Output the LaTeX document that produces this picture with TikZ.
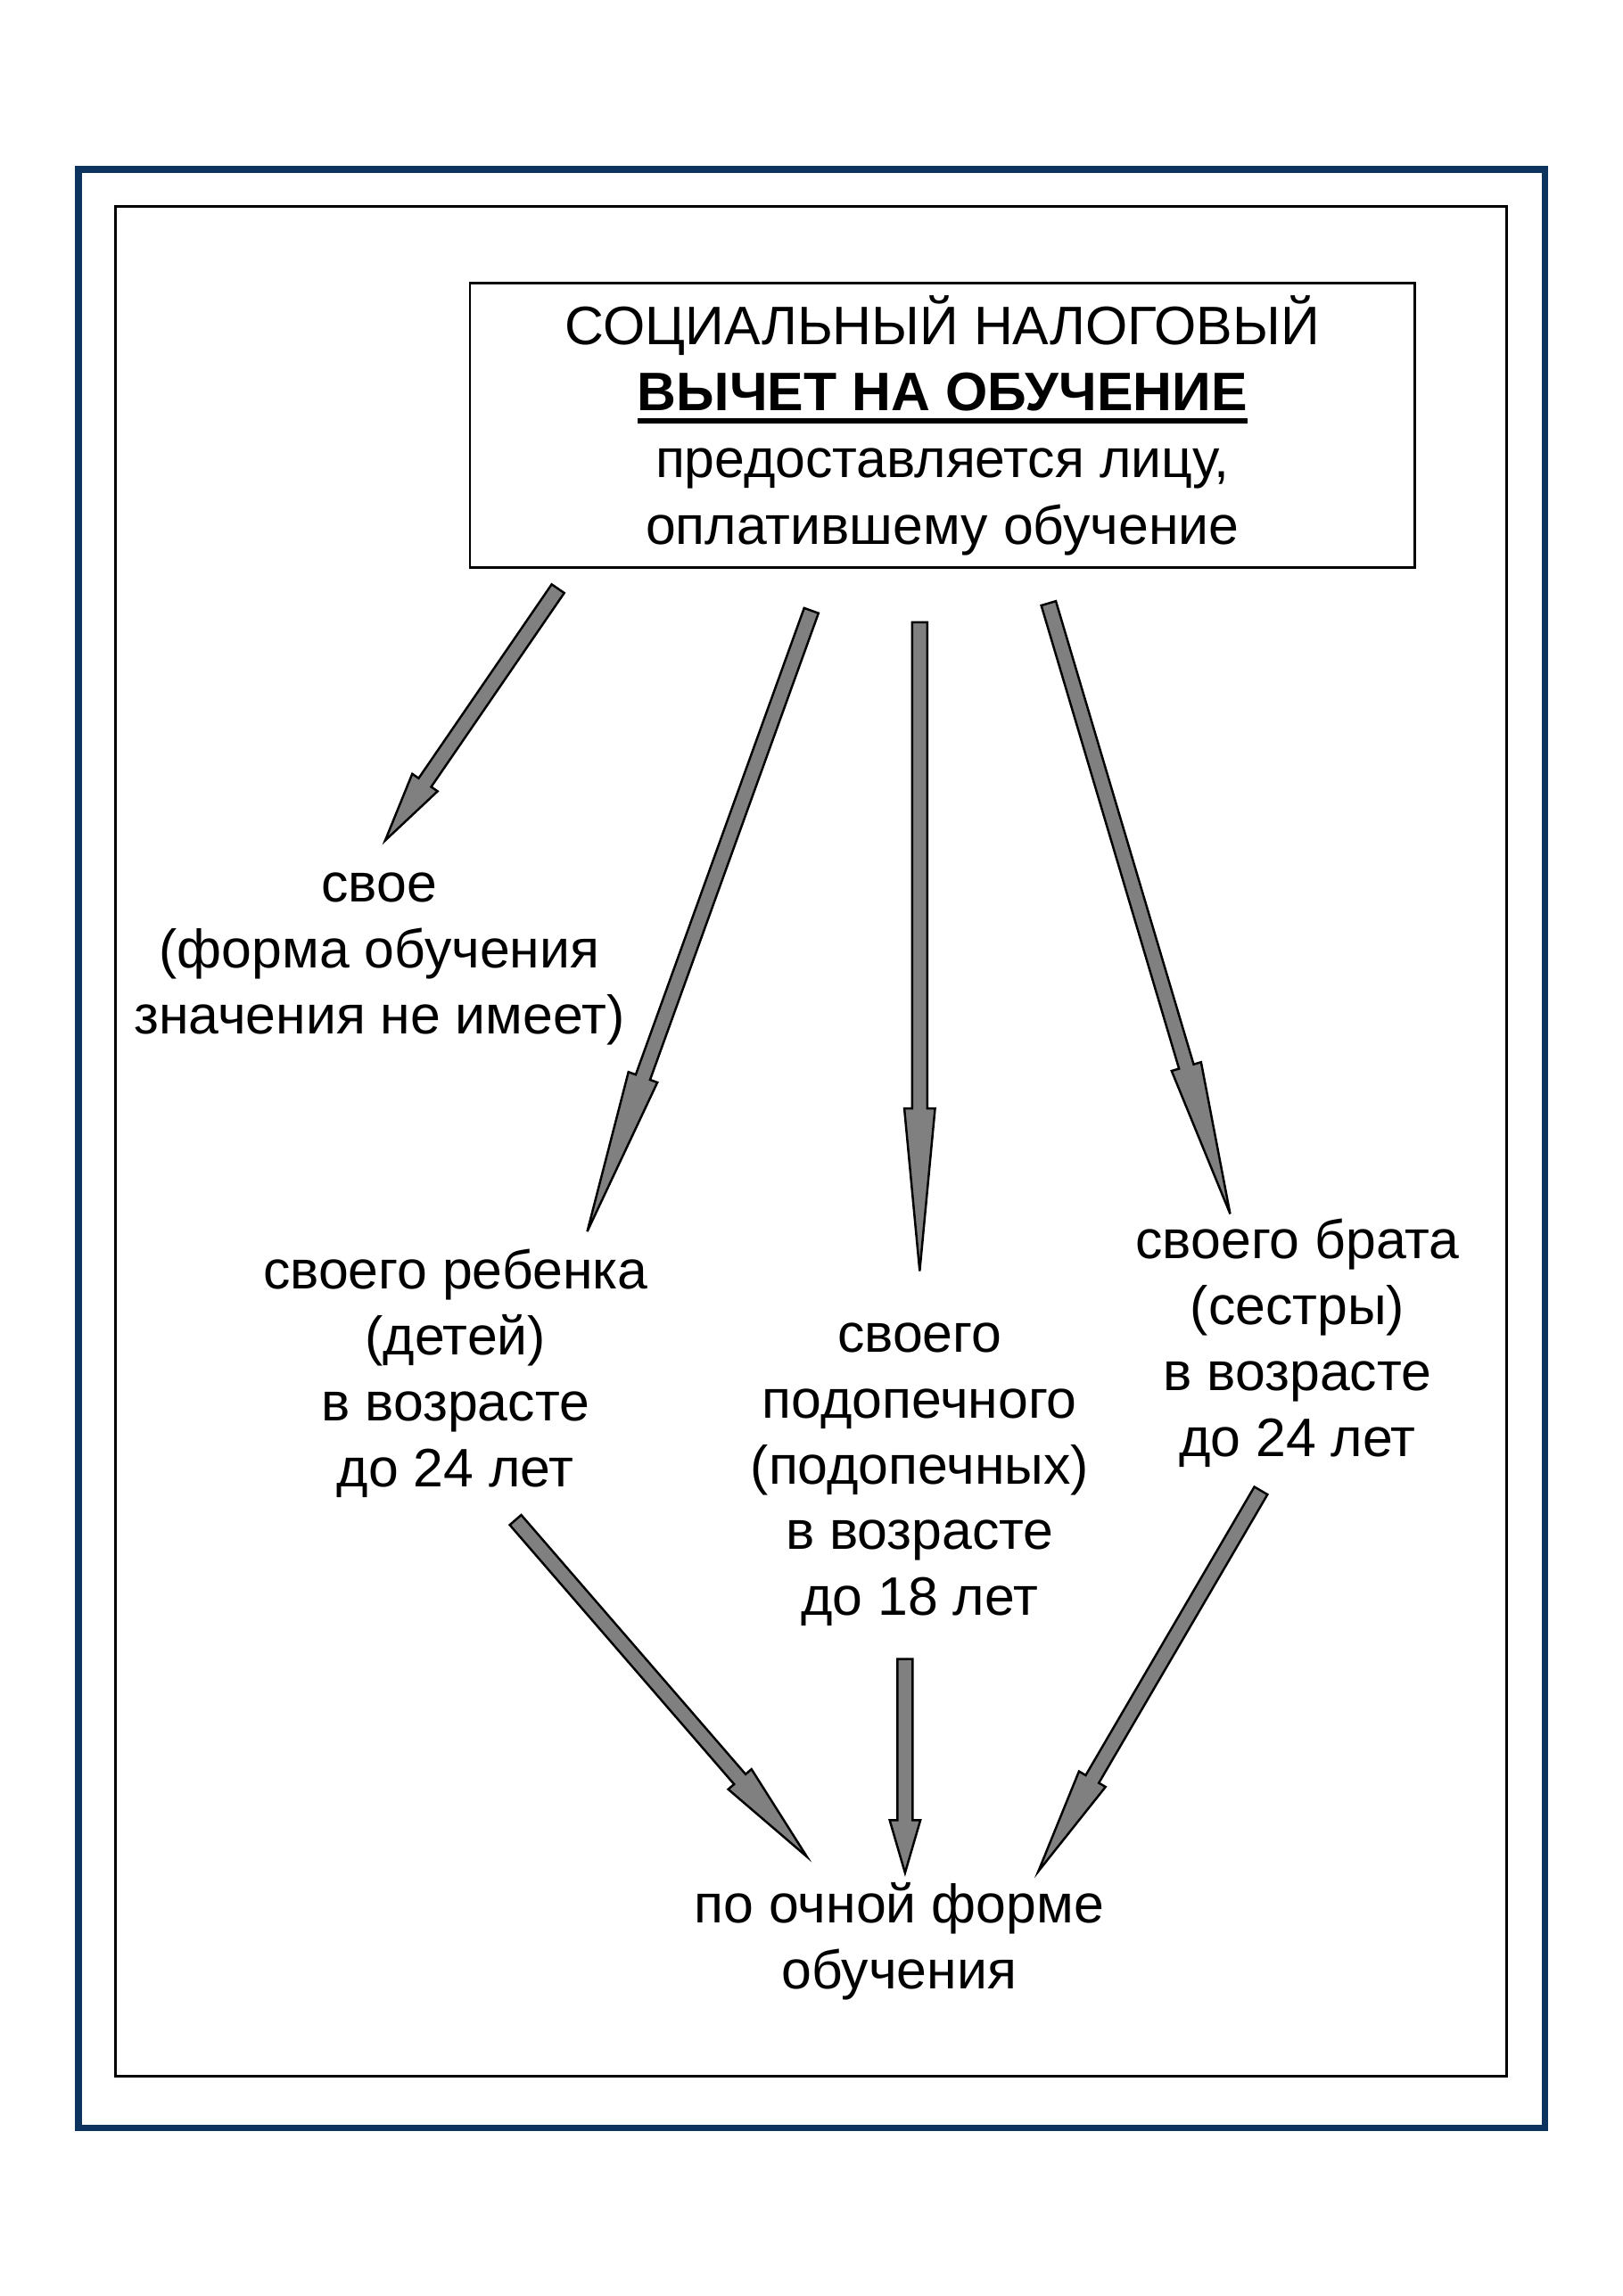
\documentclass[tikz,border=0pt]{standalone}
\usepackage{fontspec}
\setmainfont{Liberation Sans}
\usetikzlibrary{calc}
\definecolor{framenavy}{RGB}{12,52,94}
\definecolor{arrowgray}{RGB}{128,128,128}
\newcommand{\shw}{5.2pt}
\newcommand{\hhw}{10.5pt}
\newsavebox{\ulbox}
\newcommand{\thickul}[1]{\sbox{\ulbox}{#1}\leavevmode\rlap{\vrule height -5pt depth 8.8pt width \wd\ulbox}\usebox{\ulbox}}
\newcommand{\blockarrow}[3]{%
  \coordinate (bah) at ($(#2)!#3!(#1)$);
  \filldraw[arrowbody]
    ($(#1)!\shw!90:(#2)$) -- ($(bah)!\shw!90:(#2)$) -- ($(bah)!\hhw!90:(#2)$) --
    (#2) -- ($(bah)!\hhw!-90:(#2)$) -- ($(bah)!\shw!-90:(#2)$) --
    ($(#1)!\shw!-90:(#2)$) -- cycle;}
\begin{document}
\begin{tikzpicture}[x=1pt,y=-1pt,
  outerframe/.style={draw=framenavy,line width=4.3pt},
  innerframe/.style={draw=black,line width=1.8pt},
  titlebox/.style={draw=black,line width=1.6pt,minimum width=645pt,minimum height=194pt,
    inner sep=0pt,align=center,font=\fontsize{37}{45.5}\selectfont},
  lbl/.style={inner sep=0pt,align=center,font=\fontsize{37}{45}\selectfont},
  arrowbody/.style={fill=arrowgray,draw=black,line width=1.5pt}]
\useasboundingbox (0,0) rectangle (1108,1568);
\fill[white] (0,0) rectangle (1108,1568);
\draw[outerframe] (53.6,115.7) rectangle (1055,1453);
\draw[innerframe] (79,141) rectangle (1029,1418);

\node[titlebox] (title) at (643.5,290.5) {СОЦИАЛЬНЫЙ НАЛОГОВЫЙ\\\textbf{\thickul{ВЫЧЕТ НА ОБУЧЕНИЕ}}\\предоставляется лицу,\\оплатившему обучение};

\node[lbl] (own) at (259,655) {свое\\(форма обучения\\значения не имеет)};
\node[lbl] (child) at (311,938) {своего ребенка\\(детей)\\в возрасте\\до 24 лет};
\node[lbl] (ward) at (628,1007) {своего\\подопечного\\(подопечных)\\в возрасте\\до 18 лет};
\node[lbl] (sib) at (886,917) {своего брата\\(сестры)\\в возрасте\\до 24 лет};
\node[lbl] (full) at (614,1326) {по очной форме\\обучения};

\coordinate (a1s) at (381,402);  \coordinate (a1e) at (263,574);
\coordinate (a2s) at (554,417);  \coordinate (a2e) at (401,841);
\coordinate (a3s) at (628,425);  \coordinate (a3e) at (628,868);
\coordinate (a4s) at (716,412);  \coordinate (a4e) at (840,829);
\coordinate (a5s) at (352,1038); \coordinate (a5e) at (551,1268);
\coordinate (a6s) at (618,1133); \coordinate (a6e) at (618,1279);
\coordinate (a7s) at (861,1018); \coordinate (a7e) at (709,1278);

\blockarrow{a1s}{a1e}{48pt}
\blockarrow{a2s}{a2e}{112pt}
\blockarrow{a3s}{a3e}{111pt}
\blockarrow{a4s}{a4e}{105pt}
\blockarrow{a5s}{a5e}{70pt}
\blockarrow{a6s}{a6e}{36pt}
\blockarrow{a7s}{a7e}{73pt}
\end{tikzpicture}
\end{document}
